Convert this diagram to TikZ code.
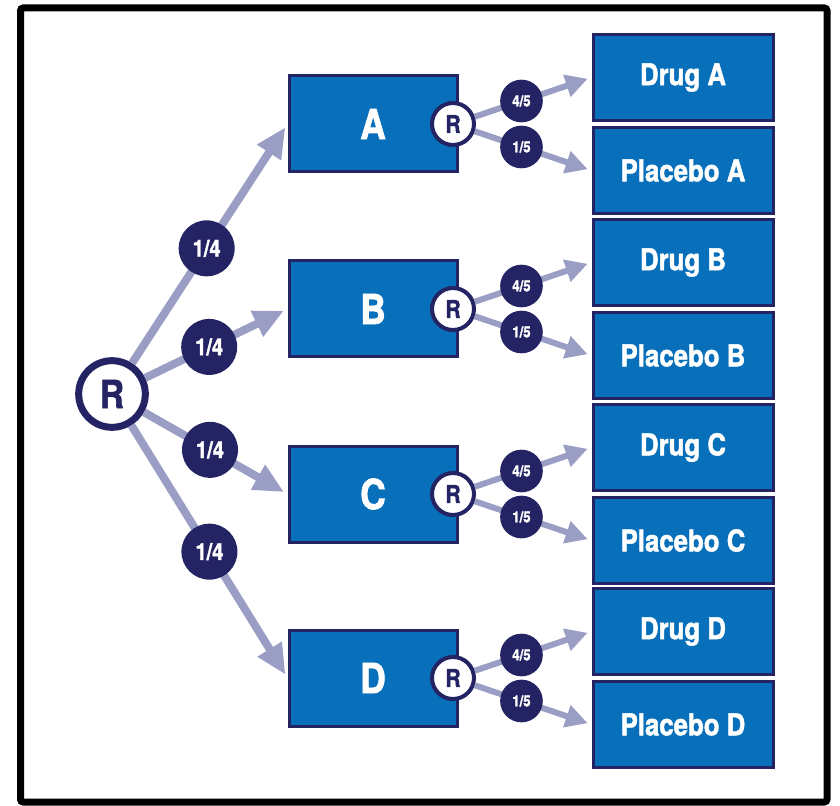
\documentclass[tikz,border=0pt]{standalone}
\usepackage{fontspec}
\setmainfont{TeX Gyre Heros}[FakeStretch=0.86, BoldFeatures={FakeBold=1.6}]
\usetikzlibrary{arrows.meta}

\definecolor{boxblue}{RGB}{8,112,186}
\definecolor{navy}{RGB}{36,36,100}
\definecolor{lavender}{RGB}{155,158,196}

\tikzset{
  armbox/.style={draw=navy, line width=2.25pt, fill=boxblue, text=white, minimum width=126pt, minimum height=72pt, inner sep=0pt, font=\bfseries\fontsize{31}{31}\selectfont},
  resultbox/.style={draw=navy, line width=2.25pt, fill=boxblue, text=white, minimum width=135pt, minimum height=64.5pt, inner sep=0pt, font=\bfseries\fontsize{22.5}{22.5}\selectfont},
  bigrand/.style={circle, draw=navy, line width=5.25pt, fill=white, text=navy, minimum size=50pt, inner sep=0pt, font=\bfseries\fontsize{29}{29}\selectfont},
  smallrand/.style={circle, draw=navy, line width=3pt, fill=white, text=navy, minimum size=31.5pt, inner sep=0pt, font=\bfseries\fontsize{18.5}{18.5}\selectfont},
  bigfrac/.style={circle, fill=navy, text=white, minimum size=42pt, inner sep=0pt, font=\bfseries\fontsize{17.5}{17.5}\selectfont},
  smallfrac/.style={circle, fill=navy, text=white, minimum size=32pt, inner sep=0pt, font=\bfseries\fontsize{11.5}{11.5}\selectfont},
  bigarrow/.style={draw=lavender, line width=6pt, -{Triangle[length=22.5pt, width=20pt]}, shorten >=3pt},
  smallarrow/.style={draw=lavender, line width=4.5pt, -{Triangle[length=16.5pt, width=16.5pt]}, shorten >=3pt}
}

\begin{document}
\begin{tikzpicture}[x=0.75pt,y=0.75pt,yscale=-1,xscale=1]
				\useasboundingbox (0,0) rectangle (840,806);
				\fill [white] (0,0) rectangle (840,806);

				%Shape: Rectangle [frame]
				\draw [line width=5.25pt, rounded corners=2pt] (20.5,8) rectangle (827,802) ;

				%Shape: Circle [first randomisation]
				\node [bigrand] (R) at (112,394) {R};

				%Shape: Rectangle [arms]
				\node [armbox] (A) at (373,124) {A};
				\node [armbox] (B) at (373,309) {B};
				\node [armbox] (C) at (373,494) {C};
				\node [armbox] (D) at (373,678) {D};

				%Shape: Circle [second randomisation]
				\node [smallrand] (RA) at (453,124) {R};
				\node [smallrand] (RB) at (453,309) {R};
				\node [smallrand] (RC) at (453,494) {R};
				\node [smallrand] (RD) at (453,678) {R};

				%Shape: Rectangle [drug and placebo]
				\node [resultbox] (drugA) at (683,77.5) {Drug A};
				\node [resultbox] (plcA) at (683,170.5) {Placebo A};
				\node [resultbox] (drugB) at (683,262.5) {Drug B};
				\node [resultbox] (plcB) at (683,355.5) {Placebo B};
				\node [resultbox] (drugC) at (683,447.5) {Drug C};
				\node [resultbox] (plcC) at (683,540.5) {Placebo C};
				\node [resultbox] (drugD) at (683,631.5) {Drug D};
				\node [resultbox] (plcD) at (683,724.5) {Placebo D};

				%Straight Lines [first split]
				\draw [bigarrow] (R) -- (A.west) node [bigfrac, pos=0.48] (qA) {1/4};
				\draw [bigarrow] (R) -- (B.west) node [bigfrac, pos=0.45] (qB) {1/4};
				\draw [bigarrow] (R) -- (C.west) node [bigfrac, pos=0.46] (qC) {1/4};
				\draw [bigarrow] (R) -- (D.west) node [bigfrac, pos=0.50] (qD) {1/4};

				%Straight Lines [second split]
				\draw [smallarrow] (RA) -- (drugA.west) node [smallfrac, pos=0.40] (fA) {4/5};
				\draw [smallarrow] (RA) -- (plcA.west) node [smallfrac, pos=0.40] (pA) {1/5};
				\draw [smallarrow] (RB) -- (drugB.west) node [smallfrac, pos=0.40] (fB) {4/5};
				\draw [smallarrow] (RB) -- (plcB.west) node [smallfrac, pos=0.40] (pB) {1/5};
				\draw [smallarrow] (RC) -- (drugC.west) node [smallfrac, pos=0.40] (fC) {4/5};
				\draw [smallarrow] (RC) -- (plcC.west) node [smallfrac, pos=0.40] (pC) {1/5};
				\draw [smallarrow] (RD) -- (drugD.west) node [smallfrac, pos=0.40] (fD) {4/5};
				\draw [smallarrow] (RD) -- (plcD.west) node [smallfrac, pos=0.40] (pD) {1/5};

		\end{tikzpicture}
\end{document}
